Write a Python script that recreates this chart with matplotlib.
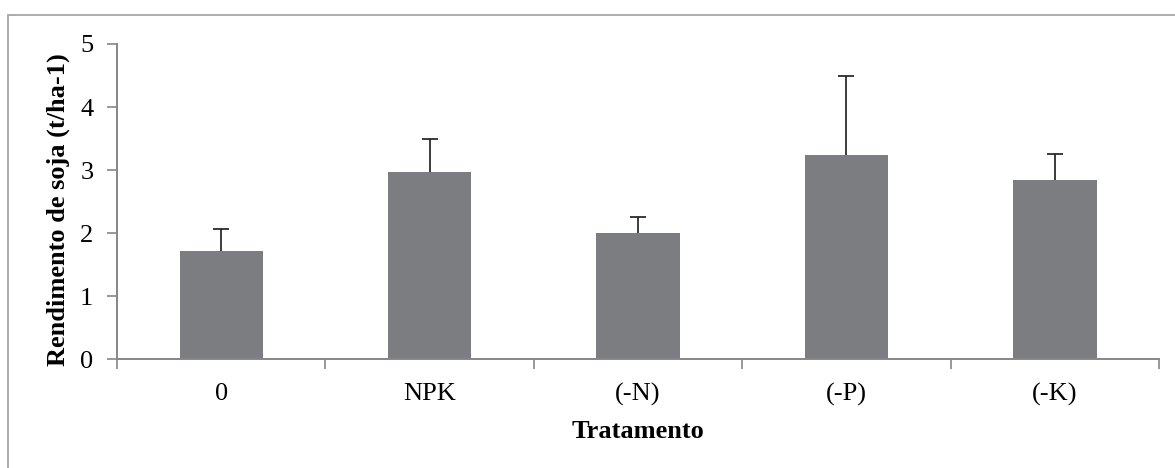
import matplotlib
matplotlib.use("Agg")
import matplotlib.pyplot as plt
from matplotlib.patches import Rectangle
import numpy as np

categories = ["0", "NPK", "(-N)", "(-P)", "(-K)"]
yield_means = [1.72, 2.97, 2.00, 3.24, 2.84]
yield_err = [0.35, 0.52, 0.25, 1.26, 0.42]

plt.rcParams["font.family"] = ["Liberation Serif", "DejaVu Serif"]

axis_gray = "#868686"
bar_gray = "#7c7d81"
fs = 19

fig = plt.figure(figsize=(11.75, 4.68), dpi=100)
ax = fig.add_axes([0.0996, 0.2325, 0.8868, 0.6735])

x = np.arange(len(categories))
ax.bar(x, yield_means, width=0.4, color=bar_gray, edgecolor="none", zorder=2)
eb = ax.errorbar(x, yield_means, yerr=[np.zeros(len(x)), yield_err], fmt="none",
                 ecolor="#1a1a1a", elinewidth=1.2, capsize=5.5, capthick=1.2, zorder=3)
# keep only the upper caps
eb[1][0].set_visible(False)

ax.set_xlim(-0.5, len(categories) - 0.5)
ax.set_ylim(0, 5)
ax.set_yticks(range(0, 6))
ax.set_xticks(x, categories)
ax.set_xticks(np.arange(-0.5, len(categories)), minor=True)
ax.tick_params(axis="x", which="major", length=0, pad=17, labelsize=fs)
ax.tick_params(axis="x", which="minor", length=7, width=1.2, color=axis_gray, direction="out")
ax.tick_params(axis="y", length=7, width=1.2, color=axis_gray, direction="out",
               pad=10, labelsize=fs)

for side in ["top", "right"]:
    ax.spines[side].set_visible(False)
for side in ["left", "bottom"]:
    ax.spines[side].set_color(axis_gray)
    ax.spines[side].set_linewidth(1.4)

ax.set_ylabel("Rendimento de soja (t/ha-1)", fontsize=fs, fontweight="bold")
ax.yaxis.set_label_coords(-0.045, 0.474)
ax.set_xlabel("Tratamento", fontsize=fs, fontweight="bold", labelpad=10)

# outer chart-area border (only top and left visible in the crop)
fig.add_artist(Rectangle((8 / 1175, -0.05), 1.1, (468 - 15) / 468 + 0.05,
                         transform=fig.transFigure, fill=False,
                         edgecolor="#a6a6a6", linewidth=1.3, clip_on=False))

fig.savefig("out.png", dpi=100)
